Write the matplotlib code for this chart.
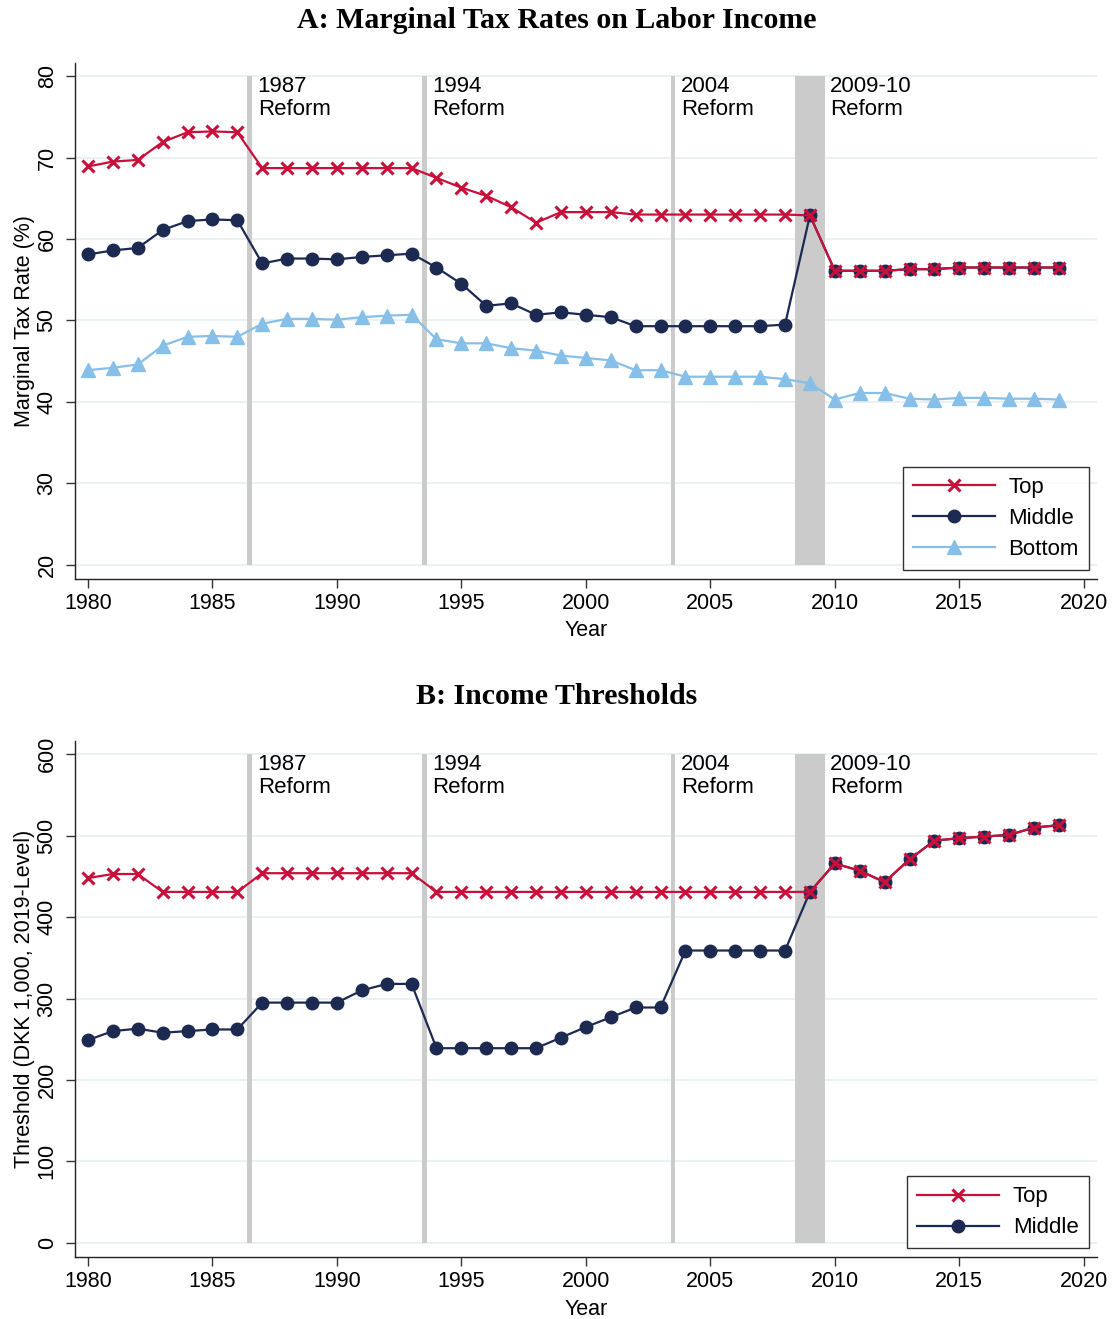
import numpy as np
import matplotlib
matplotlib.use("Agg")
import matplotlib.pyplot as plt

plt.rcParams['font.family'] = ['Liberation Sans', 'DejaVu Sans']

years = np.arange(1980, 2020)

# Panel A: marginal tax rates (%)
mtr_top = [68.9, 69.5, 69.7, 71.9, 73.1, 73.2, 73.1,
           68.7, 68.7, 68.7, 68.7, 68.7, 68.7, 68.7,
           67.5, 66.3, 65.3, 63.9, 62.0, 63.3, 63.3, 63.3, 63.0, 63.0,
           63.0, 63.0, 63.0, 63.0, 63.0,
           62.9, 56.1, 56.1, 56.1, 56.3, 56.3, 56.5, 56.5, 56.5, 56.5, 56.5]
mtr_middle = [58.1, 58.6, 58.9, 61.1, 62.2, 62.4, 62.3,
              57.0, 57.6, 57.6, 57.5, 57.8, 58.0, 58.2,
              56.5, 54.5, 51.8, 52.1, 50.7, 51.0, 50.7, 50.4, 49.3, 49.3,
              49.3, 49.3, 49.3, 49.3, 49.5,
              62.9, 56.1, 56.1, 56.1, 56.3, 56.3, 56.5, 56.5, 56.5, 56.5, 56.5]
mtr_bottom = [43.9, 44.2, 44.6, 46.9, 48.0, 48.1, 48.0,
              49.6, 50.2, 50.2, 50.1, 50.4, 50.6, 50.7,
              47.7, 47.2, 47.2, 46.6, 46.3, 45.7, 45.4, 45.1, 43.9, 43.9,
              43.1, 43.1, 43.1, 43.1, 42.8,
              42.3, 40.3, 41.1, 41.1, 40.4, 40.3, 40.5, 40.5, 40.4, 40.4, 40.3]

# Panel B: income thresholds (DKK 1,000, 2019 level)
thr_top = [448, 453, 453, 431, 431, 431, 431,
           454, 454, 454, 454, 454, 454, 454,
           431, 431, 431, 431, 431, 431, 431, 431, 431, 431,
           431, 431, 431, 431, 431,
           431, 466, 457, 443, 471, 494, 497, 499, 501, 510, 513]
thr_middle = [249, 260, 263, 258, 260, 262, 262,
              295, 295, 295, 295, 310, 318, 318,
              239, 239, 239, 239, 239, 252, 265, 277, 289, 289,
              359, 359, 359, 359, 359,
              431, 466, 457, 443, 471, 494, 497, 499, 501, 510, 513]

reform_labels = ["1987\nReform", "1994\nReform", "2004\nReform", "2009-10\nReform"]
reform_spans = [(1986.4, 1986.6), (1993.4, 1993.6), (2003.4, 2003.6), (2008.4, 2009.6)]

RED = '#C8103A'
NAVY = '#1C2A52'
LIGHT = '#86BFE8'
GRID = '#E8F0F2'
BAND = '#CBCBCB'
FS = 15.5

fig = plt.figure(figsize=(11.13, 13.19), dpi=100)


def style_axes(ax, ylim, yticks, ylabel):
    ax.set_xlim(1979.48, 2020.53)
    ax.set_ylim(*ylim)
    ax.set_xticks(np.arange(1980, 2021, 5))
    ax.set_yticks(yticks)
    ax.set_yticklabels([str(t) for t in yticks], rotation=90, va='center')
    ax.tick_params(axis='both', labelsize=FS, length=6.5, width=1.0, color='#333333')
    ax.tick_params(axis='x', pad=3.5)
    ax.tick_params(axis='y', pad=6)
    for s in ['top', 'right']:
        ax.spines[s].set_visible(False)
    for s in ['left', 'bottom']:
        ax.spines[s].set_linewidth(1.0)
        ax.spines[s].set_color('#222222')
    for t in yticks:
        ax.axhline(t, color=GRID, lw=1.3, zorder=0)
    ax.set_xlabel("Year", fontsize=FS, labelpad=5)
    ax.set_ylabel(ylabel, fontsize=FS, labelpad=1.5)


def add_reforms(ax, y0, y1):
    for (a, b), lab in zip(reform_spans, reform_labels):
        ax.fill_between([a, b], y0, y1, color=BAND, lw=0, zorder=1)
        ax.text(b + 0.22, y1, lab, fontsize=16, va='top', ha='left',
                linespacing=1.1, zorder=5)


def add_legend(ax):
    h, l = ax.get_legend_handles_labels()
    leg = ax.legend(h[::-1], l[::-1], loc='lower right', fontsize=16, frameon=True,
                    fancybox=False, edgecolor='black', handlelength=3.7,
                    handletextpad=0.6, labelspacing=0.45, borderaxespad=0.38,
                    borderpad=0.45)
    leg.get_frame().set_linewidth(1.0)
    leg.set_zorder(10)


# ---- Panel A ----
axA = fig.add_axes([0.0674, 0.5613, 0.9182, 0.3907])
style_axes(axA, (18.32, 81.56), list(range(20, 81, 10)), "Marginal Tax Rate (%)")
add_reforms(axA, 20, 80)
axA.plot(years, mtr_bottom, color=LIGHT, lw=1.6, marker='^', ms=10, mec=LIGHT,
         label='Bottom', zorder=3)
axA.plot(years, mtr_middle, color=NAVY, lw=1.6, marker='o', ms=9, mec=NAVY,
         label='Middle', zorder=3)
axA.plot(years, mtr_top, color=RED, lw=1.6, marker='x', ms=9, mew=2.2,
         label='Top', zorder=4)
add_legend(axA)
fig.text(0.5, 1 - 20 / 1319, "A: Marginal Tax Rates on Labor Income",
         ha='center', va='center', fontsize=21.5, fontweight='bold',
         family=['Liberation Serif'])

# ---- Panel B ----
axB = fig.add_axes([0.0674, 0.0472, 0.9182, 0.3912])
style_axes(axB, (-17.2, 616.7), list(range(0, 601, 100)),
           "Threshold (DKK 1,000, 2019-Level)")
add_reforms(axB, 0, 600)
axB.plot(years, thr_middle, color=NAVY, lw=1.6, marker='o', ms=9, mec=NAVY,
         label='Middle', zorder=3)
axB.plot(years, thr_top, color=RED, lw=1.6, marker='x', ms=9, mew=2.2,
         label='Top', zorder=4)
add_legend(axB)
fig.text(0.5, 1 - 697 / 1319, "B: Income Thresholds",
         ha='center', va='center', fontsize=21.5, fontweight='bold',
         family=['Liberation Serif'])

fig.savefig("out.png", dpi=100, facecolor='white')
